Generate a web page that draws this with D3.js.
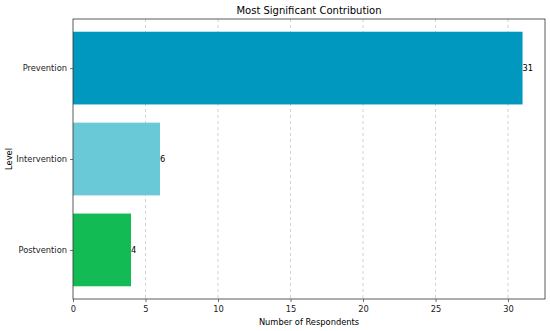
<!DOCTYPE html>
<html><head><meta charset="utf-8">
<script src="https://cdn.jsdelivr.net/npm/d3@7"></script>
<style>body{margin:0;background:#fff}svg{display:block}text{font-family:"DejaVu Sans",sans-serif}</style>
</head><body>
<script>
const categories = ["Prevention", "Intervention", "Postvention"];
const values = [31, 6, 4];
const colors = ["#0098bf", "#69c9d6", "#13bb55"];
const xTicks = [0, 5, 10, 15, 20, 25, 30];
const title = "Most Significant Contribution";
const xLabel = "Number of Respondents";
const yLabel = "Level";

const W = 550, H = 331;
const m = {left: 73, right: 5, top: 19, bottom: 32};
const iw = W - m.left - m.right, ih = H - m.top - m.bottom;
const svg = d3.select("body").append("svg").attr("width", W).attr("height", H);
const g = svg.append("g").attr("transform", `translate(${m.left},${m.top})`);

const xmax = d3.max(values) * 1.05;
const x = d3.scaleLinear().domain([0, xmax]).range([0, iw]);
const n = categories.length;
const y = d3.scaleLinear().domain([-0.54, n - 1 + 0.54]).range([ih, 0]);
const pos = i => n - 1 - i;

g.append("g").selectAll("line").data(xTicks.filter(t => t > 0)).join("line")
  .attr("x1", d => x(d)).attr("x2", d => x(d)).attr("y1", 0).attr("y2", ih)
  .attr("stroke", "#b0b0b0").attr("stroke-width", 0.8).attr("stroke-dasharray", "3,3").attr("opacity", 0.7);

g.append("g").selectAll("rect").data(values).join("rect")
  .attr("x", x(0)).attr("y", (d, i) => y(pos(i) + 0.4))
  .attr("width", d => x(d) - x(0)).attr("height", y(0) - y(0.8))
  .attr("fill", (d, i) => colors[i]);

g.append("g").selectAll("text").data(values).join("text")
  .attr("x", d => x(d)).attr("y", (d, i) => y(pos(i)))
  .attr("dy", "0.35em").attr("font-size", 8.3).attr("fill", "#000").text(d => d);

const xa = g.append("g").attr("transform", `translate(0,${ih})`)
  .call(d3.axisBottom(x).tickValues(xTicks).tickSize(3).tickPadding(4.5));
const ya = g.append("g")
  .call(d3.axisLeft(y).tickValues(categories.map((c, i) => pos(i))).tickFormat(v => categories[n - 1 - v]).tickSize(3).tickPadding(3));
[xa, ya].forEach(a => {
  a.select(".domain").remove();
  a.selectAll("text").attr("font-size", 8.3).attr("fill", "#222").style("font-family", "DejaVu Sans");
  a.selectAll("line").attr("stroke", "#333").attr("stroke-width", 0.7);
});
g.append("rect").attr("width", iw).attr("height", ih).attr("fill", "none").attr("stroke", "#333").attr("stroke-width", 0.8);

svg.append("text").attr("x", m.left + iw / 2).attr("y", 14).attr("text-anchor", "middle")
  .attr("font-size", 10).attr("fill", "#000").text(title);
svg.append("text").attr("x", m.left + iw / 2).attr("y", 325).attr("text-anchor", "middle")
  .attr("font-size", 8.3).attr("fill", "#000").text(xLabel);
svg.append("text").attr("transform", `translate(12,${m.top + ih / 2}) rotate(-90)`).attr("text-anchor", "middle")
  .attr("font-size", 8.3).attr("fill", "#000").text(yLabel);
</script>
</body></html>
